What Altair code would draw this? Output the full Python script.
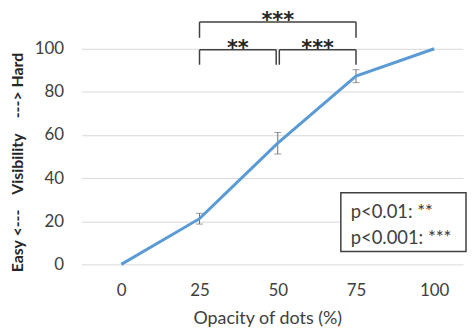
import altair as alt
import pandas as pd

# ---- data ----
opacity = [0, 25, 50, 75, 100]
visibility = [0, 21.2, 56.2, 87.3, 100]
err_x = [25, 50, 75]
err_mid = [21.2, 56.2, 87.3]
err_half = [2.5, 5.0, 3.0]

# significance brackets (data units)
br_h_x1 = [25, 25, 50.5]
br_h_x2 = [75, 49.5, 75]
br_h_y = [112.4, 99.5, 99.5]
br_v_x = [25, 75, 25, 49.5, 50.5, 75]
br_v_y1 = [112.4, 112.4, 99.5, 99.5, 99.5, 99.5]
br_v_y2 = [105.1, 105.1, 92.6, 92.6, 92.6, 92.6]
star_x = [50, 37.25, 62.75]
star_y = [112.4, 99.5, 99.5]
star_txt = ["***", "**", "***"]
legend_lines = ["p<0.01: **", "p<0.001: ***"]

df = pd.DataFrame({"opacity": opacity, "vis": visibility})
edf = pd.DataFrame({"x": err_x,
                    "lo": [m - h for m, h in zip(err_mid, err_half)],
                    "hi": [m + h for m, h in zip(err_mid, err_half)]})
hdf = pd.DataFrame({"x1": br_h_x1, "x2": br_h_x2, "y": br_h_y})
vdf = pd.DataFrame({"x": br_v_x, "y1": br_v_y1, "y2": br_v_y2})
sdf = pd.DataFrame({"x": star_x, "y": star_y, "t": star_txt})
one = pd.DataFrame({"a": [0]})

FONT = "Lato"
TXT = "#404040"
XT = "Opacity of dots (%)"
YT = "Easy <---\u00a0\u00a0\u00a0\u00a0Visibility\u00a0\u00a0\u00a0\u00a0---> Hard"
xs = alt.Scale(domain=[-12.7, 109.2], nice=False, zero=False)
ys = alt.Scale(domain=[0, 117.5], nice=False)
xax = alt.Axis(values=opacity, grid=False, ticks=False, domain=False,
               labelFont=FONT, labelFontSize=17, labelColor=TXT,
               labelPadding=18, titleFont=FONT,
               titleFontSize=18, titleFontWeight="normal",
               titleColor=TXT, titleX=187, titleY=55,
               titleBaseline="middle")
yax = alt.Axis(values=[0, 20, 40, 60, 80, 100], grid=True,
               gridColor="#d9d9d9", gridWidth=1, ticks=False,
               domain=False, labelFont=FONT, labelFontSize=17,
               labelColor=TXT, labelPadding=18,
               titleFont=FONT, titleFontSize=16,
               titleFontWeight="bold", titleColor="#262626",
               titleAngle=270, titleX=-64, titleY=152,
               titleAlign="center", titleBaseline="middle")


def X(f):
    return alt.X(f, scale=xs, axis=xax, title=XT)


def Y(f):
    return alt.Y(f, scale=ys, axis=yax, title=YT)


line = alt.Chart(df).mark_line(color="#5B9BD5", strokeWidth=3).encode(
    x=X("opacity:Q"), y=Y("vis:Q"))

ebar = alt.Chart(edf).mark_rule(color="#6f6f6f", strokeWidth=1).encode(
    x=X("x:Q"), y=Y("lo:Q"), y2="hi:Q")
cap_lo = alt.Chart(edf).mark_tick(color="#6f6f6f", orient="horizontal",
                                  size=7, thickness=1).encode(
    x=X("x:Q"), y=Y("lo:Q"))
cap_hi = alt.Chart(edf).mark_tick(color="#6f6f6f", orient="horizontal",
                                  size=7, thickness=1).encode(
    x=X("x:Q"), y=Y("hi:Q"))

brh = alt.Chart(hdf).mark_rule(color="#404040", strokeWidth=1.5).encode(
    x=X("x1:Q"), x2="x2:Q", y=Y("y:Q"))
brv = alt.Chart(vdf).mark_rule(color="#404040", strokeWidth=1.5).encode(
    x=X("x:Q"), y=Y("y1:Q"), y2="y2:Q")
stars = alt.Chart(sdf).mark_text(font="DejaVu Sans", fontSize=21,
                                 fontWeight="bold",
                                 color="#262626", baseline="alphabetic",
                                 dy=5).encode(
    x=X("x:Q"), y=Y("y:Q"), text="t:N")

box = alt.Chart(one).mark_rect(fill="white", stroke="#404040",
                               strokeWidth=1.5).encode(
    x=alt.value(261), x2=alt.value(387), y=alt.value(183), y2=alt.value(242))
leg1 = alt.Chart(one).mark_text(font=FONT, fontSize=18.5, color=TXT,
                                align="left", baseline="middle").encode(
    x=alt.value(271), y=alt.value(202), text=alt.value(legend_lines[0]))
leg2 = alt.Chart(one).mark_text(font=FONT, fontSize=18.5, color=TXT,
                                align="left", baseline="middle").encode(
    x=alt.value(271), y=alt.value(228), text=alt.value(legend_lines[1]))

chart = alt.layer(ebar, cap_lo, cap_hi, line, brh, brv, stars, box, leg1, leg2).properties(
    width=384, height=255,
    autosize=alt.AutoSizeParams(type="none"),
    padding={"left": 74, "top": 2, "right": 4, "bottom": 68},
).configure_view(stroke=None)

chart.save("out.html", embed_options={"renderer": "svg", "actions": False})
